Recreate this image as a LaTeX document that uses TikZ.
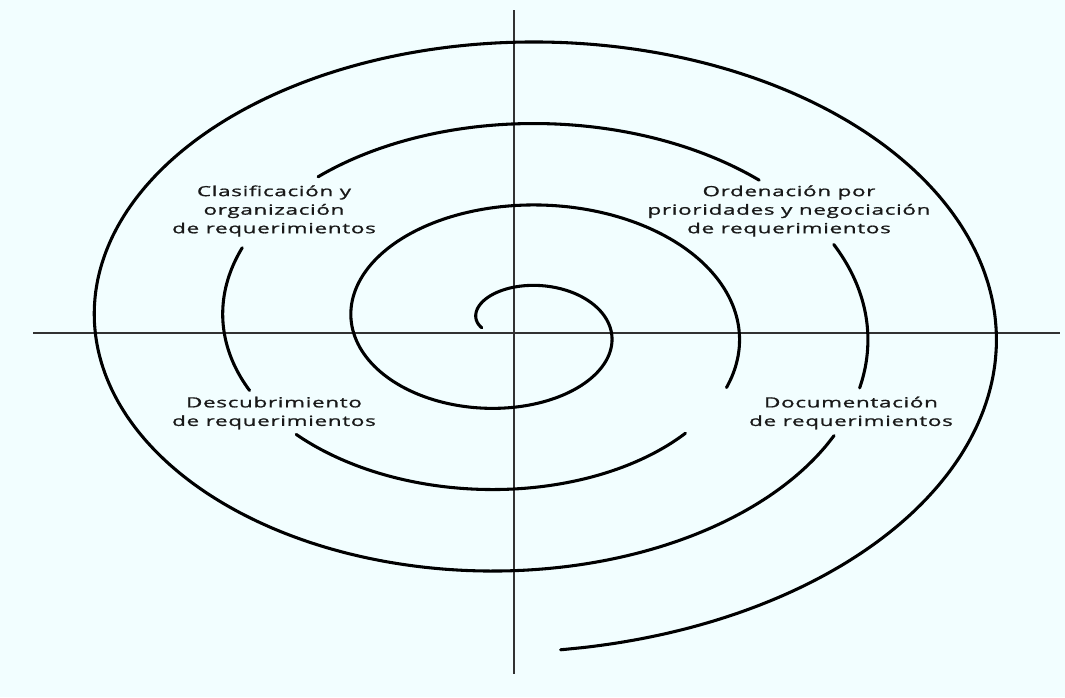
\documentclass[tikz,border=0pt]{standalone}
\usepackage{fontspec}
\newfontfamily\lblfont[FakeStretch=1.6,LetterSpace=5,FakeBold=1.1]{Open Sans}
\definecolor{bgcyan}{RGB}{242,254,255}
\definecolor{axisgray}{RGB}{50,50,50}
\definecolor{lbltext}{RGB}{25,25,25}
\begin{document}
\begin{tikzpicture}[x=0.75pt,y=-0.75pt,
  spiral/.style={line width=2.3pt, black, line cap=round},
  axisline/.style={line width=1.6pt, axisgray},
  lbl/.style={align=center, font=\lblfont\fontsize{10.5}{13.9}\selectfont, text=lbltext, inner sep=0pt},
  declare function={sx(\t)=513.2+(64.6+20.48*\t)*sin(\t r); sy(\t)=326.9-(39.6+13*\t)*cos(\t r);}]
\fill[bgcyan] (0,0) rectangle (1065,697);
\useasboundingbox (0,0) rectangle (1065,697);
% axes
\coordinate (vtop) at (514,10);
\coordinate (vbot) at (514,674);
\coordinate (hleft) at (33,333);
\coordinate (hright) at (1060,333);
\draw[axisline] (vtop) -- (vbot);
\draw[axisline] (hleft) -- (hright);
% spiral, broken where the labels sit
\foreach \a/\b in {-1.62/8.28, 8.63/10.33, 10.63/11.43, 11.88/13.38, 13.75/14.41, 14.63/21.90}
  \draw[spiral] plot[domain=\a:\b, samples=140, smooth, variable=\t] ({sx(\t)},{sy(\t)});
% labels
\node[lbl] (clasif) at (274,211) {Clasificación y\\organización\\de requerimientos};
\node[lbl] (orden) at (789,211) {Ordenación por\\prioridades y negociación\\de requerimientos};
\node[lbl] (descub) at (274,413) {Descubrimiento\\de requerimientos};
\node[lbl] (docum) at (851,413) {Documentación\\de requerimientos};
\end{tikzpicture}
\end{document}
